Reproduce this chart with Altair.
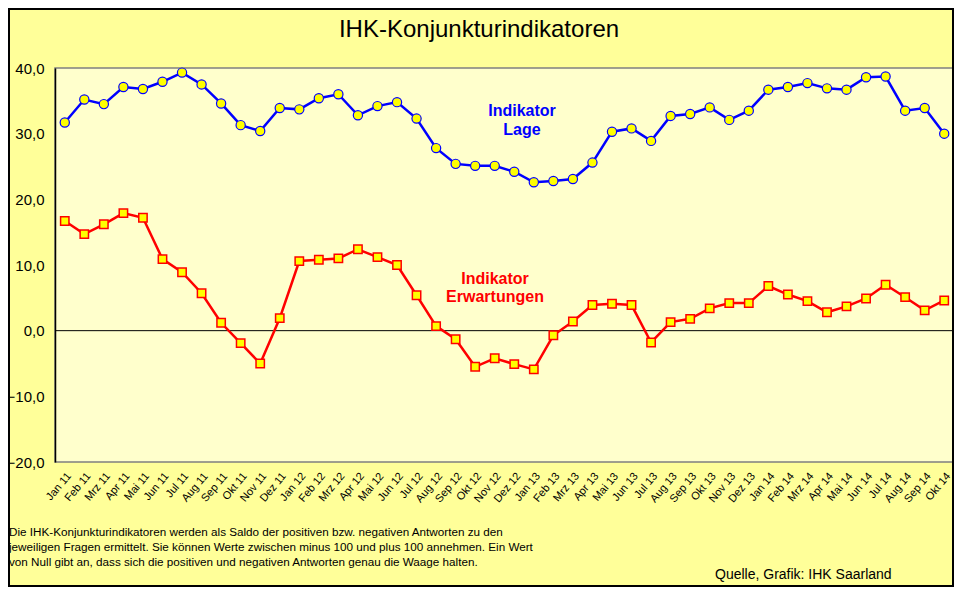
import altair as alt
import pandas as pd

monate = [
    "Jan 11", "Feb 11", "Mrz 11", "Apr 11", "Mai 11", "Jun 11", "Jul 11", "Aug 11", "Sep 11", "Okt 11", "Nov 11", "Dez 11",
    "Jan 12", "Feb 12", "Mrz 12", "Apr 12", "Mai 12", "Jun 12", "Jul 12", "Aug 12", "Sep 12", "Okt 12", "Nov 12", "Dez 12",
    "Jan 13", "Feb 13", "Mrz 13", "Apr 13", "Mai 13", "Jun 13", "Jul 13", "Aug 13", "Sep 13", "Okt 13", "Nov 13", "Dez 13",
    "Jan 14", "Feb 14", "Mrz 14", "Apr 14", "Mai 14", "Jun 14", "Jul 14", "Aug 14", "Sep 14", "Okt 14",
]
lage = [
    31.7, 35.2, 34.5, 37.1, 36.8, 37.9, 39.3, 37.5, 34.6, 31.3, 30.4, 33.9,
    33.7, 35.4, 36.0, 32.8, 34.2, 34.8, 32.3, 27.8, 25.4, 25.1, 25.1, 24.2,
    22.6, 22.8, 23.1, 25.6, 30.3, 30.8, 28.9, 32.7, 33.0, 34.0, 32.1, 33.5,
    36.7, 37.1, 37.7, 36.9, 36.7, 38.6, 38.7, 33.5, 33.9, 30.0,
]
erwartungen = [
    16.7, 14.7, 16.2, 17.9, 17.2, 10.9, 8.9, 5.7, 1.2, -1.9, -5.0, 1.9,
    10.6, 10.8, 11.0, 12.4, 11.2, 10.0, 5.4, 0.7, -1.3, -5.5, -4.2, -5.1,
    -5.9, -0.7, 1.4, 3.9, 4.1, 3.9, -1.8, 1.3, 1.8, 3.4, 4.2, 4.2,
    6.8, 5.5, 4.5, 2.8, 3.7, 4.9, 7.0, 5.1, 3.1, 4.6,
]
y_ticks = [-20, -10, 0, 10, 20, 30, 40]

titel = "IHK-Konjunkturindikatoren"
fussnote = [
    "Die IHK-Konjunkturindikatoren werden als Saldo der positiven bzw. negativen Antworten zu den",
    "jeweiligen Fragen ermittelt. Sie können Werte zwischen minus 100 und plus 100 annehmen. Ein Wert",
    "von Null gibt an, dass sich die positiven und negativen Antworten genau die Waage halten.",
]
quelle = "Quelle, Grafik: IHK  Saarland"

df = pd.DataFrame({"Monat": monate, "Lage": lage, "Erwartungen": erwartungen})
one = pd.DataFrame({"a": [0]})

FONT = "Liberation Sans"

x_enc = alt.X(
    "Monat:N", sort=monate,
    scale=alt.Scale(type="point", padding=0.5),
    axis=alt.Axis(
        title=None, labelAngle=310, labelAlign="right", labelBaseline="middle",
        labelFontSize=11, labelFont=FONT, labelColor="black", labelOverlap=False,
        ticks=False, labelPadding=12, labelOffset=4, domain=False, grid=False,
    ),
)
y_scale = alt.Scale(domain=[-20, 40], nice=False, zero=False)

base = alt.Chart(df)

lage_line = base.mark_line(color="#0000FF", strokeWidth=2.5).encode(
    x=x_enc,
    y=alt.Y(
        "Lage:Q", scale=y_scale,
        axis=alt.Axis(
            title=None, values=y_ticks,
            labelExpr="replace(format(datum.value, '.1f'), '.', ',')",
            labelFontSize=15, labelFont=FONT, labelColor="black", labelPadding=11,
            ticks=False, grid=False, domainColor="black", domainWidth=1.5,
        ),
    ),
)
lage_pts = base.mark_point(
    shape="circle", filled=True, fill="#FFFF00", stroke="#0000FF",
    strokeWidth=1.2, size=85, opacity=1,
).encode(x=x_enc, y=alt.Y("Lage:Q", scale=y_scale))

erw_line = base.mark_line(color="#FF0000", strokeWidth=2.5).encode(
    x=x_enc, y=alt.Y("Erwartungen:Q", scale=y_scale)
)
erw_pts = base.mark_point(
    shape="square", filled=True, fill="#FFFF00", stroke="#FF0000",
    strokeWidth=1.5, size=70, opacity=1,
).encode(x=x_enc, y=alt.Y("Erwartungen:Q", scale=y_scale))

zero_rule = alt.Chart(one).mark_rule(color="black", strokeWidth=1).encode(
    y=alt.datum(0), x=alt.value(0), x2=alt.value(899)
)


def txt(t, x, y, size, color="black", weight="normal", align="center",
        baseline="middle", font=FONT):
    return alt.Chart(one).mark_text(
        text=t, fontSize=size, color=color, fontWeight=weight, align=align,
        baseline=baseline, font=font,
    ).encode(x=alt.value(x), y=alt.value(y))


labels = [
    txt(titel, 424, -31, 24, baseline="alphabetic"),
    txt("Indikator", 467, 43, 16, color="#0000FF", weight="bold"),
    txt("Lage", 467, 62, 16, color="#0000FF", weight="bold"),
    txt("Indikator", 440, 211, 16, color="#FF0000", weight="bold"),
    txt("Erwartungen", 440, 229, 16, color="#FF0000", weight="bold"),
    txt(fussnote[0], -46, 468, 11.7, align="left", baseline="alphabetic"),
    txt(fussnote[1], -46, 483, 11.7, align="left", baseline="alphabetic"),
    txt(fussnote[2], -46, 498, 11.7, align="left", baseline="alphabetic"),
    txt(quelle, 660, 511, 14, align="left", baseline="alphabetic"),
]

border = alt.Chart(one).mark_rect(fill=None, stroke="black", strokeWidth=2).encode(
    x=alt.value(-46), x2=alt.value(898), y=alt.value(-59), y2=alt.value(518)
)

chart = alt.layer(
    zero_rule, erw_line, lage_line, erw_pts, lage_pts, *labels, border
).properties(
    width=899, height=394,
    autosize=alt.AutoSizeParams(type="none"),
    padding={"left": 47, "top": 60, "right": 0, "bottom": 125},
    background="#FFFF99",
).configure_view(
    fill="#FFFFCC", stroke="#808080", strokeWidth=1.5
)

chart.save("out.html", embed_options={"renderer": "svg", "actions": False})
